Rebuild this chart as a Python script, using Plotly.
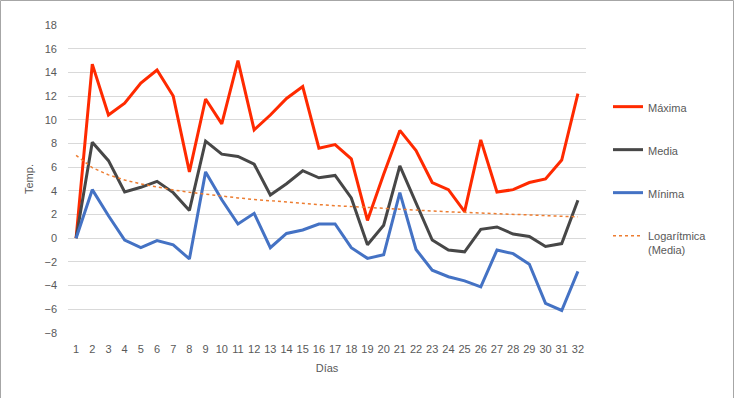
import numpy as np
import plotly.graph_objects as go

dias = list(range(1, 33))
maxima = [0, 14.7, 10.4, 11.4, 13.1, 14.2, 12.0, 5.6, 11.75, 9.65, 15.0, 9.15,
          10.4, 11.8, 12.8, 7.6, 7.9, 6.7, 1.5, 5.4, 9.1, 7.4, 4.7, 4.1,
          2.25, 8.3, 3.9, 4.1, 4.7, 5.0, 6.6, 12.2]
media = [0, 8.1, 6.55, 3.9, 4.3, 4.8, 3.85, 2.35, 8.2, 7.1, 6.9, 6.25,
         3.65, 4.6, 5.7, 5.1, 5.3, 3.4, -0.55, 1.1, 6.1, 3.0, -0.15, -1.0,
         -1.15, 0.75, 0.95, 0.35, 0.15, -0.7, -0.45, 3.2]
minima = [0, 4.1, 1.9, -0.15, -0.8, -0.2, -0.55, -1.75, 5.6, 3.25, 1.2, 2.1,
          -0.8, 0.4, 0.7, 1.2, 1.2, -0.8, -1.7, -1.4, 3.85, -0.95, -2.7, -3.25,
          -3.6, -4.1, -1.0, -1.3, -2.2, -5.5, -6.1, -2.8]
y_ticks = list(range(-8, 19, 2))

# Logarithmic trendline of Media (least squares y = a + b ln x)
lx = np.log(np.array(dias, dtype=float))
b, a = np.polyfit(lx, np.array(media), 1)
trend = (a + b * lx).tolist()

W, H = 735, 398
L, R, T, B = 68, 149, 25, 65
pw, ph = W - L - R, H - T - B

font_c = "#595959"
fam = "Liberation Sans"

fig = go.Figure()
fig.add_trace(go.Scatter(x=dias, y=maxima, mode="lines", name="Máxima",
                         line=dict(color="#FF2A00", width=3), legendgroup="a"))
fig.add_trace(go.Scatter(x=dias, y=media, mode="lines", name="Media",
                         line=dict(color="#474747", width=3), legendgroup="b"))
fig.add_trace(go.Scatter(x=dias, y=minima, mode="lines", name="Mínima",
                         line=dict(color="#4472C4", width=3), legendgroup="c"))
fig.add_trace(go.Scatter(x=dias, y=trend, mode="lines", name="Logarítmica<br>(Media)",
                         line=dict(color="#ED7D31", width=1.5, dash="dot"), legendgroup="d"))

fig.update_layout(
    width=W, height=H,
    margin=dict(l=L, r=R, t=T, b=B, autoexpand=False),
    paper_bgcolor="white", plot_bgcolor="white",
    font=dict(family=fam, size=11, color=font_c),
    showlegend=True,
    legend=dict(x=(608 - L) / pw, y=(H - 93 - B) / ph, xanchor="left", yanchor="top",
                xref="paper", yref="paper",
                itemwidth=30, tracegroupgap=24, valign="top",
                font=dict(family=fam, size=11, color=font_c),
                bgcolor="rgba(0,0,0,0)"),
    xaxis=dict(range=[0.5, 32.5], tickmode="array", tickvals=dias,
               ticktext=[str(d) for d in dias], showgrid=False, zeroline=False,
               showline=False, ticks="", ticklabelstandoff=8,
               tickfont=dict(size=11, color=font_c),
               title=dict(text="Días", font=dict(size=11, color=font_c), standoff=10)),
    yaxis=dict(range=[-8, 18], tickmode="array", tickvals=y_ticks,
               showgrid=True, gridcolor="#D9D9D9", gridwidth=1, zeroline=False,
               showline=False, ticks="", ticklabelstandoff=10,
               tickfont=dict(size=11, color=font_c),
               title=dict(text="Temp.", font=dict(size=11, color=font_c), standoff=8)),
    shapes=[dict(type="rect", xref="paper", yref="paper",
                 x0=(0.5 - L) / pw, x1=(W - 1.5 - L) / pw,
                 y0=(B - H + 1.5) / ph, y1=(H - 0.5 - B) / ph,
                 line=dict(color="#A6A6A6", width=1), fillcolor="rgba(0,0,0,0)",
                 layer="below")],
)

fig.write_html("out.html", config={"displayModeBar": False},
               post_script="document.body.style.margin='0';")
